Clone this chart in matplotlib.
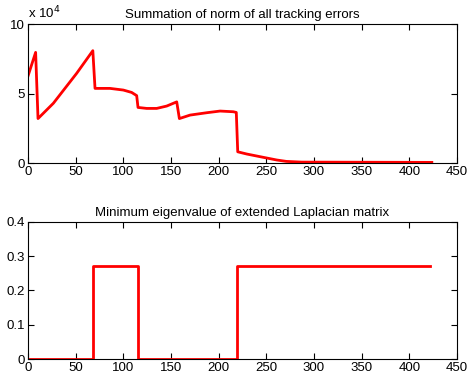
import numpy as np
import matplotlib
matplotlib.use("Agg")
import matplotlib.pyplot as plt

plt.rcParams["font.family"] = ["Liberation Sans", "DejaVu Sans"]
plt.rcParams["font.size"] = 9.5

# top panel: summation of tracking-error norms (units of 1e4)
err_t = [0, 8, 10.5, 26.6, 51, 68, 70.3, 86, 100, 108.7, 114, 115.4, 124.5, 135,
         145.5, 156, 158.8, 170, 187.5, 201.5, 215.4, 218.5, 220, 229.5, 247,
         261, 271, 287, 423.6]
err_v = [6.26, 7.96, 3.2, 4.3, 6.45, 8.08, 5.37, 5.37, 5.25, 5.08, 4.85, 4.0, 3.93,
         3.93, 4.1, 4.4, 3.2, 3.45, 3.62, 3.74, 3.69, 3.64, 0.81, 0.65, 0.41,
         0.22, 0.12, 0.07, 0.05]

# bottom panel: minimum eigenvalue (step signal)
eig_t = [0, 68.5, 68.5, 115, 115, 219.6, 219.6, 422]
eig_v = [0, 0, 0.27, 0.27, 0, 0, 0.27, 0.27]

fig = plt.figure(figsize=(4.69, 3.81), dpi=100)
ax1 = fig.add_axes([0.0597, 0.572, 0.9147, 0.365])
ax2 = fig.add_axes([0.0597, 0.0577, 0.9147, 0.36])

ax1.plot(err_t, err_v, color="red", lw=2)
ax1.set_xlim(0, 450); ax1.set_ylim(0, 10)
ax1.set_yticks([0, 5, 10])
ax1.set_title("Summation of norm of all tracking errors", fontsize=9.5, pad=4)
ax1.text(0, 1.02, "x 10$^4$", transform=ax1.transAxes, fontsize=9.5, va="bottom")

ax2.plot(eig_t, eig_v, color="red", lw=2)
ax2.set_xlim(0, 450); ax2.set_ylim(0, 0.4)
ax2.set_yticks([0, 0.1, 0.2, 0.3, 0.4])
ax2.set_yticklabels(["0", "0.1", "0.2", "0.3", "0.4"])
ax2.set_title("Minimum eigenvalue of extended Laplacian matrix", fontsize=9.5, pad=4)

for ax in (ax1, ax2):
    ax.set_xticks(np.arange(0, 451, 50))
    ax.tick_params(direction="in", top=True, right=True, length=4, pad=2)

fig.savefig("out.png", dpi=100)
